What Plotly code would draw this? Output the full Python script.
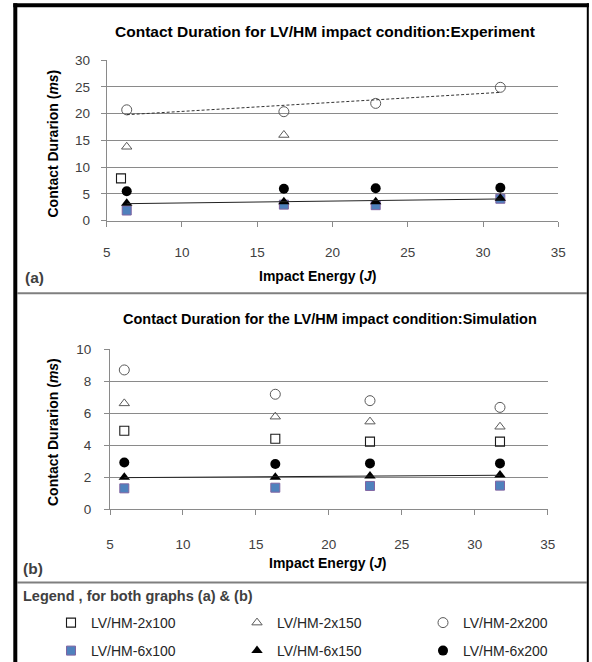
import numpy as np
import plotly.graph_objects as go

W, H = 592, 662

# ---------------- DATA ----------------
series_names = ["LV/HM-2x100", "LV/HM-2x150", "LV/HM-2x200",
                "LV/HM-6x100", "LV/HM-6x150", "LV/HM-6x200"]

# (a) Experiment
exp_energy = [6.33, 16.77, 22.87, 31.15]
exp_2x100_energy = [5.95]
exp_2x100 = [7.9]
exp_2x150_energy = [6.33, 16.77]
exp_2x150 = [13.8, 16.0]
exp_2x200 = [20.7, 20.35, 21.9, 24.9]
exp_6x100 = [1.9, 3.0, 2.9, 4.1]
exp_6x150 = [3.25, 3.55, 3.55, 4.2]
exp_6x200 = [5.5, 5.95, 6.05, 6.15]

# (b) Simulation
sim_energy = [5.98, 16.33, 22.82, 31.73]
sim_2x100 = [4.91, 4.41, 4.23, 4.23]
sim_2x150 = [6.62, 5.79, 5.48, 5.16]
sim_2x200 = [8.71, 7.19, 6.79, 6.37]
sim_6x100 = [1.31, 1.35, 1.46, 1.48]
sim_6x150 = [2.0, 2.0, 2.08, 2.14]
sim_6x200 = [2.93, 2.83, 2.87, 2.87]

x_ticks = [5, 10, 15, 20, 25, 30, 35]
y_ticks_a = [0, 5, 10, 15, 20, 25, 30]
y_ticks_b = [0, 2, 4, 6, 8, 10]

# ---------------- STYLE ----------------
FONT = "Arial, 'Liberation Sans', sans-serif"
GRID = "#8a8a8a"
TICKC = "#404040"

styles = [
    dict(symbol="square-open", size=9, color="#1a1a1a", line=dict(width=1.1, color="#1a1a1a")),
    dict(symbol="triangle-up-open", size=9, color="#595959", line=dict(width=1, color="#595959")),
    dict(symbol="circle-open", size=10, color="#595959", line=dict(width=1, color="#595959")),
    dict(symbol="square", size=9, color="#4F81BD", line=dict(width=1, color="#8064A2")),
    dict(symbol="triangle-up", size=10, color="#000000", line=dict(width=0)),
    dict(symbol="circle", size=10, color="#000000", line=dict(width=0)),
]


def px(x):
    return x / W


def py(y):
    return 1 - y / H


fig = go.Figure()

exp_sets = [(exp_2x100_energy, exp_2x100), (exp_2x150_energy, exp_2x150),
            (exp_energy, exp_2x200), (exp_energy, exp_6x100),
            (exp_energy, exp_6x150), (exp_energy, exp_6x200)]
sim_sets = [(sim_energy, sim_2x100), (sim_energy, sim_2x150),
            (sim_energy, sim_2x200), (sim_energy, sim_6x100),
            (sim_energy, sim_6x150), (sim_energy, sim_6x200)]

for i, (xs, ys) in enumerate(exp_sets):
    fig.add_trace(go.Scatter(
        x=xs, y=ys, mode="markers", name=series_names[i],
        marker=styles[i], xaxis="x", yaxis="y",
        legend="legend" if i < 3 else "legend2", showlegend=True, cliponaxis=False))

for i, (xs, ys) in enumerate(sim_sets):
    fig.add_trace(go.Scatter(
        x=xs, y=ys, mode="markers", name=series_names[i],
        marker=styles[i], xaxis="x2", yaxis="y2", showlegend=False, cliponaxis=False))


def trend(xs, ys):
    k, b = np.polyfit(xs, ys, 1)
    xe = [min(xs), max(xs)]
    return xe, [k * v + b for v in xe]


tx, ty = trend(exp_energy, exp_2x200)
fig.add_trace(go.Scatter(x=tx, y=ty, mode="lines", xaxis="x", yaxis="y", showlegend=False,
                         line=dict(color="#333333", width=1, dash="3px,2px")))
tx, ty = trend(exp_energy, exp_6x150)
fig.add_trace(go.Scatter(x=tx, y=ty, mode="lines", xaxis="x", yaxis="y", showlegend=False,
                         line=dict(color="#222222", width=1)))
tx, ty = trend(sim_energy, sim_6x150)
fig.add_trace(go.Scatter(x=tx, y=ty, mode="lines", xaxis="x2", yaxis="y2", showlegend=False,
                         line=dict(color="#222222", width=1)))

common_x = dict(range=[5, 35], tickvals=x_ticks, ticks="outside", ticklen=5, tickcolor=GRID,
                showline=True, linecolor=GRID, linewidth=1, showgrid=False, zeroline=False,
                tickfont=dict(family=FONT, size=13.5, color=TICKC), fixedrange=True,
                automargin=False)
common_y = dict(ticks="outside", ticklen=5, tickcolor=GRID, showline=True, linecolor=GRID,
                linewidth=1, showgrid=True, gridcolor=GRID, gridwidth=1, zeroline=False,
                tickfont=dict(family=FONT, size=13.5, color=TICKC), fixedrange=True,
                automargin=False)

fig.update_layout(
    width=W, height=H, margin=dict(l=0, r=0, t=0, b=0, autoexpand=False),
    paper_bgcolor="white", plot_bgcolor="white",
    font=dict(family=FONT, color="#000"),
    xaxis=dict(domain=[px(106.7), px(558.3)], anchor="y", ticklabelstandoff=14, **common_x),
    yaxis=dict(domain=[py(220.7), py(60)], anchor="x", range=[0, 30], tickvals=y_ticks_a,
               ticklabelstandoff=8, **common_y),
    xaxis2=dict(domain=[px(110), px(547.7)], anchor="y2", ticklabelstandoff=17, **common_x),
    yaxis2=dict(domain=[py(509.3), py(349.3)], anchor="x2", range=[0, 10], tickvals=y_ticks_b,
                ticklabelstandoff=10, **common_y),
    legend=dict(orientation="h", x=px(51), xanchor="left", y=py(623), yanchor="middle",
                entrywidth=141, entrywidthmode="pixels", bgcolor="rgba(0,0,0,0)",
                font=dict(family=FONT, size=14, color="#262626"), itemsizing="trace"),
    legend2=dict(orientation="h", x=px(51), xanchor="left", y=py(651), yanchor="middle",
                 entrywidth=141, entrywidthmode="pixels", bgcolor="rgba(0,0,0,0)",
                 font=dict(family=FONT, size=14, color="#262626"), itemsizing="trace"),
    showlegend=True,
)

ann = []


def add_text(text, x, y, size, color="#000", angle=0, xanchor="center"):
    ann.append(dict(text=text, x=px(x), y=py(y), xref="paper", yref="paper", showarrow=False,
                    xanchor=xanchor, yanchor="middle", textangle=angle,
                    font=dict(family=FONT, size=size, color=color)))


add_text("<b>Contact Duration for LV/HM impact condition:Experiment</b>", 325, 31, 15.5)
add_text("<b>Contact Duration for the LV/HM impact condition:Simulation</b>", 330, 319, 14.5)
add_text("<b>Contact Durarion (<i>ms</i>)</b>", 52.5, 144, 14, angle=-90)
add_text("<b>Contact Durarion (<i>ms</i>)</b>", 52.5, 432.5, 14, angle=-90)
add_text("<b>Impact Energy (<i>J</i>)</b>", 318, 275.5, 14)
add_text("<b>Impact Energy (<i>J</i>)</b>", 327.5, 562.5, 14)
add_text("<b>(a)</b>", 23, 278, 15.5, color="#404040", xanchor="left")
add_text("<b>(b)</b>", 21, 568, 15.5, color="#404040", xanchor="left")
add_text("<b>Legend , for both graphs (a) &amp; (b)</b>", 20.5, 596, 14.5, color="#404040",
         xanchor="left")
fig.update_layout(annotations=ann)

shapes = [
    dict(x0=13.3, x1=589, y0=5.3, y1=5.3, color="#000", w=4),
    dict(x0=15.3, x1=15.3, y0=3.3, y1=662, color="#000", w=4),
    dict(x0=587.8, x1=587.8, y0=3.3, y1=662, color="#000", w=2),
    dict(x0=17, x1=587, y0=293.3, y1=293.3, color="#7f7f7f", w=2),
    dict(x0=17, x1=587, y0=582.5, y1=582.5, color="#7f7f7f", w=2),
]
fig.update_layout(shapes=[
    dict(type="line", xref="paper", yref="paper", x0=px(s["x0"]), x1=px(s["x1"]),
         y0=py(s["y0"]), y1=py(s["y1"]), line=dict(color=s["color"], width=s["w"]))
    for s in shapes])

fig.write_html("out.html", config={"displayModeBar": False})
